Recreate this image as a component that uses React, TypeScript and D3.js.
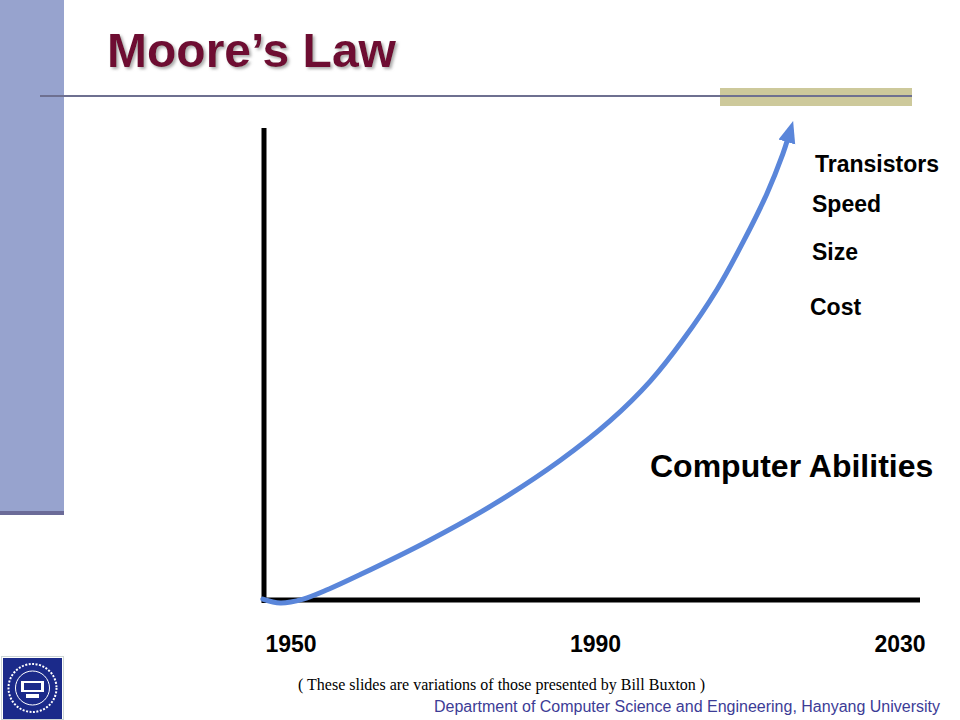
import React from "react";
import * as d3 from "d3";

const years = [1946.3, 1948.6, 1951.6, 1955.0, 1959.1, 1967.9, 1976.5, 1985.3, 1991.9, 1997.2, 2001.5, 2006.0, 2009.4, 2012.5, 2014.6, 2015.3];
const abilities = [0.2, -0.6, 0.2, 2.3, 5.3, 12.2, 19.8, 29.0, 37.3, 45.6, 54.2, 64.8, 74.6, 84.6, 92.9, 96.3];
const tickYears = [1950, 1990, 2030];
const measures = ["Transistors", "Speed", "Size", "Cost"];
const measureY = [172, 212, 260, 315];
const measureX = [815, 812, 812, 810];

const FONT = "Arial, 'Liberation Sans', Helvetica, sans-serif";

export default function App() {
  const x = d3.scaleLinear().domain([1950, 2030]).range([291, 900]);
  const y = d3.scaleLinear().domain([0, 100]).range([600, 120]);
  const pts: [number, number][] = years.map((yr, i) => [x(yr), y(abilities[i])]);
  const line = d3.line().curve(d3.curveCatmullRom.alpha(0.5));
  const axisLeft = x.invert(264);
  const axisRight = x.invert(920);

  return (
    <svg width={960} height={720} style={{ position: "absolute", left: 0, top: 0, background: "#fff" }}>
      <defs>
        <marker id="arrow" markerUnits="userSpaceOnUse" markerWidth={24} markerHeight={24} refX={4} refY={8} orient="auto" viewBox="0 0 22 16">
          <path d="M0,0 L20,8 L0,16 Z" fill="#5A86DA" />
        </marker>
        <filter id="shadow" x="-10%" y="-20%" width="130%" height="150%">
          <feDropShadow dx={2} dy={2} stdDeviation={1.5} floodColor="#888" floodOpacity={0.7} />
        </filter>
      </defs>
      {/* sidebar */}
      <rect x={0} y={0} width={64} height={512} fill="#97A3CE" />
      <rect x={0} y={511} width={64} height={4} fill="#6B6B98" />
      {/* header rule and khaki bar */}
      <rect x={720} y={88} width={192} height={18} fill="#CDC99B" />
      <line x1={40} x2={912} y1={96} y2={96} stroke="#6E7090" strokeWidth={2} />
      <text x={107} y={67} fontFamily={FONT} fontWeight="bold" fontSize={48} fill="#6E0B33" filter="url(#shadow)">
        Moore’s Law
      </text>
      {/* axes */}
      <line x1={264} x2={264} y1={128} y2={y(-0.6)} stroke="#000" strokeWidth={5} />
      <line x1={x(axisLeft) - 2} x2={x(axisRight)} y1={600} y2={600} stroke="#000" strokeWidth={5} />
      {/* curve */}
      <path d={line(pts) || ""} fill="none" stroke="#5A86DA" strokeWidth={5} strokeLinecap="round" markerEnd="url(#arrow)" />
      {/* tick labels */}
      {tickYears.map((t) => (
        <text key={t} x={x(t)} y={652} textAnchor="middle" fontFamily={FONT} fontWeight="bold" fontSize={23} fill="#000">
          {t}
        </text>
      ))}
      {measures.map((m, i) => (
        <text key={m} x={measureX[i]} y={measureY[i]} fontFamily={FONT} fontWeight="bold" fontSize={23} fill="#000">
          {m}
        </text>
      ))}
      <text x={650} y={477} fontFamily={FONT} fontWeight="bold" fontSize={32} fill="#000">
        Computer Abilities
      </text>
      {/* footer */}
      <text x={298} y={690} fontFamily="'Liberation Serif', 'Times New Roman', serif" fontSize={16} fill="#000">
        ( These slides are variations of those presented by Bill Buxton )
      </text>
      <text x={940} y={712} textAnchor="end" fontFamily={FONT} fontSize={16} fill="#3C3C96">
        Department of Computer Science and  Engineering, Hanyang University
      </text>
      {/* logo */}
      <rect x={1.5} y={656.5} width={62} height={63} fill="none" stroke="#9aa" strokeDasharray="1,1" />
      <rect x={3} y={658} width={59} height={61} fill="#1B2A8A" />
      <circle cx={32.5} cy={688} r={24} fill="none" stroke="#fff" strokeWidth={2} strokeDasharray="2,1.5" />
      <circle cx={32.5} cy={688} r={17} fill="none" stroke="#fff" strokeWidth={1} />
      <rect x={21} y={681} width={23} height={11} fill="#fff" />
      <rect x={24} y={683} width={17} height={7} fill="#1B2A8A" />
      <rect x={26} y={694} width={13} height={4} fill="#fff" />
    </svg>
  );
}
